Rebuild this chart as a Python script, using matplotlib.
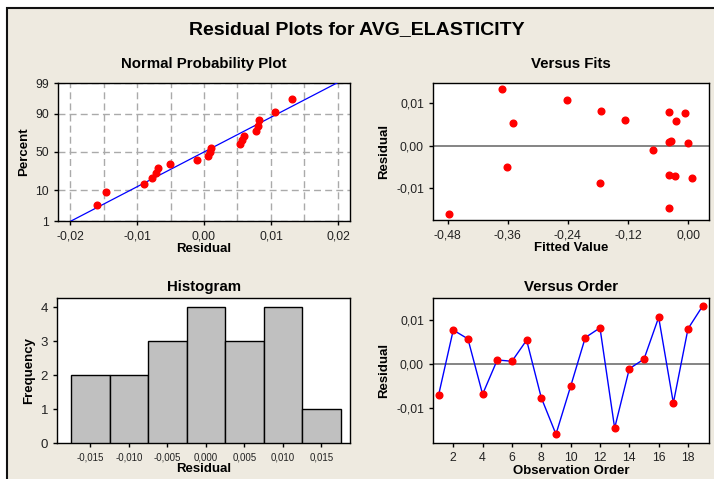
import matplotlib
matplotlib.use("Agg")
import matplotlib.pyplot as plt
from matplotlib.patches import Rectangle
from statistics import NormalDist
import numpy as np

plt.rcParams['font.family'] = ['Liberation Sans', 'DejaVu Sans']

# residuals in observation order
residuals = [-0.0071, 0.0077, 0.0057, -0.0069, 0.0009, 0.0006, 0.0054, -0.0077, -0.0160, -0.0051,
             0.0060, 0.0082, -0.0146, -0.0011, 0.0011, 0.0106, -0.0089, 0.0080, 0.0132]
# fitted values in observation order
fitted = [-0.026, -0.0067, -0.024, -0.0385, -0.0385, -0.001, -0.349, 0.008, -0.478, -0.362,
          -0.1255, -0.173, -0.0385, -0.069, -0.0335, -0.242, -0.176, -0.0385, -0.372]
order = list(range(1, len(residuals) + 1))

pct_ticks = [1, 10, 50, 90, 99]
npp_xticks = [-0.02, -0.01, 0.0, 0.01, 0.02]
npp_xlabels = ["-0,02", "-0,01", "0,00", "0,01", "0,02"]
npp_xgrid = [-0.02, -0.015, -0.01, -0.005, 0.0, 0.005, 0.01, 0.015, 0.02]
fit_xticks = [-0.48, -0.36, -0.24, -0.12, 0.0]
fit_xlabels = ["-0,48", "-0,36", "-0,24", "-0,12", "0,00"]
res_yticks = [-0.01, 0.0, 0.01]
res_ylabels = ["-0,01", "0,00", "0,01"]
hist_bins = [-0.0175, -0.0125, -0.0075, -0.0025, 0.0025, 0.0075, 0.0125, 0.0175]
hist_xticks = [-0.015, -0.010, -0.005, 0.0, 0.005, 0.010, 0.015]
hist_xlabels = ["-0,015", "-0,010", "-0,005", "0,000", "0,005", "0,010", "0,015"]
hist_yticks = [0, 1, 2, 3, 4]
order_xticks = [2, 4, 6, 8, 10, 12, 14, 16, 18]

W, H = 714, 479
fig = plt.figure(figsize=(W / 100, H / 100), dpi=100, facecolor='white')
bg = Rectangle((7 / W, -0.05), 1.1, 1.05 - 8 / H, transform=fig.transFigure,
               facecolor='#EEEAE0', edgecolor='#111111', lw=1.5, zorder=-5)
fig.patches.append(bg)

fig.text(0.5, 1 - 30 / H, 'Residual Plots for AVG_ELASTICITY', ha='center', va='center',
         fontsize=14, fontweight='bold')


def px_axes(l, t, r, b):
    return fig.add_axes([l / W, 1 - b / H, (r - l) / W, (b - t) / H])


def style(ax):
    ax.set_facecolor('white')
    for s in ax.spines.values():
        s.set_linewidth(1.0)
        s.set_color('black')
    ax.tick_params(direction='out', length=3, width=1, labelsize=8.8, colors='black',
                   labelcolor='#222222')


red = '#FF0000'
blue = '#0000FF'
ms = 4.8
tfs = 10.8  # subplot title size
lfs = 9.5   # axis label size

# Normal probability plot
ax1 = px_axes(58, 83, 350, 221)
style(ax1)
nd = NormalDist()
n = len(residuals)
srt = sorted(residuals)
zs = [nd.inv_cdf((i + 1 - 0.3) / (n + 0.4)) for i in range(n)]
mu = float(np.mean(residuals))
sd = float(np.std(residuals, ddof=1))
zl = np.linspace(-2.8, 2.8, 60)
ax1.plot(mu + zl * sd, zl, color=blue, lw=0.9, zorder=3)
ax1.plot(srt, zs, 'o', color=red, ms=ms, zorder=4)
ax1.set_ylim(nd.inv_cdf(0.01), nd.inv_cdf(0.99))
ax1.set_yticks([nd.inv_cdf(p / 100) for p in pct_ticks])
ax1.set_yticklabels([str(p) for p in pct_ticks])
ax1.set_xlim(-0.0218, 0.0218)
ax1.set_xticks(npp_xticks)
ax1.set_xticklabels(npp_xlabels)
ax1.set_xticks(npp_xgrid, minor=True)
ax1.tick_params(which='minor', length=0)
ax1.grid(True, which='both', axis='x', color='#AAAAAA', ls=(0, (5, 3)), lw=1)
ax1.grid(True, which='major', axis='y', color='#AAAAAA', ls=(0, (5, 3)), lw=1)
ax1.set_axisbelow(True)
ax1.set_title('Normal Probability Plot', fontsize=tfs, fontweight='bold', pad=11)
ax1.set_xlabel('Residual', fontsize=lfs, fontweight='bold', labelpad=1)
ax1.set_ylabel('Percent', fontsize=lfs, fontweight='bold')

# Versus fits
ax2 = px_axes(433, 83, 709, 220)
style(ax2)
ax2.axhline(0, color='#707070', lw=1.2, zorder=2)
ax2.plot(fitted, residuals, 'o', color=red, ms=ms, zorder=4)
ax2.set_xlim(-0.509, 0.0418)
ax2.set_ylim(-0.0175, 0.0147)
ax2.set_xticks(fit_xticks)
ax2.set_xticklabels(fit_xlabels)
ax2.set_yticks(res_yticks)
ax2.set_yticklabels(res_ylabels)
ax2.set_title('Versus Fits', fontsize=tfs, fontweight='bold', pad=11)
ax2.set_xlabel('Fitted Value', fontsize=lfs, fontweight='bold', labelpad=1)
ax2.set_ylabel('Residual', fontsize=lfs, fontweight='bold')

# Histogram
ax3 = px_axes(57, 298, 350, 443)
style(ax3)
ax3.hist(residuals, bins=hist_bins, color='#C0C0C0', edgecolor='black', lw=1.0, zorder=3)
ax3.set_xlim(-0.01932, 0.01872)
ax3.set_ylim(0, 4.27)
ax3.set_xticks(hist_xticks)
ax3.set_xticklabels(hist_xlabels, fontsize=7)
ax3.set_yticks(hist_yticks)
ax3.tick_params(axis='y', labelsize=9.5)
ax3.set_title('Histogram', fontsize=tfs, fontweight='bold', pad=5)
ax3.set_xlabel('Residual', fontsize=lfs, fontweight='bold', labelpad=1)
ax3.set_ylabel('Frequency', fontsize=lfs, fontweight='bold')

# Versus order
ax4 = px_axes(433, 298, 709, 443)
style(ax4)
ax4.axhline(0, color='#707070', lw=1.2, zorder=2)
ax4.plot(order, residuals, '-', color=blue, lw=1.0, zorder=3)
ax4.plot(order, residuals, 'o', color=red, ms=ms, zorder=4)
ax4.set_xlim(0.62, 19.43)
ax4.set_ylim(-0.0180, 0.0150)
ax4.set_xticks(order_xticks)
ax4.set_yticks(res_yticks)
ax4.set_yticklabels(res_ylabels)
ax4.set_title('Versus Order', fontsize=tfs, fontweight='bold', pad=5)
ax4.set_xlabel('Observation Order', fontsize=lfs, fontweight='bold', labelpad=1)
ax4.set_ylabel('Residual', fontsize=lfs, fontweight='bold')

fig.savefig('out.png', dpi=100, facecolor=fig.get_facecolor())
